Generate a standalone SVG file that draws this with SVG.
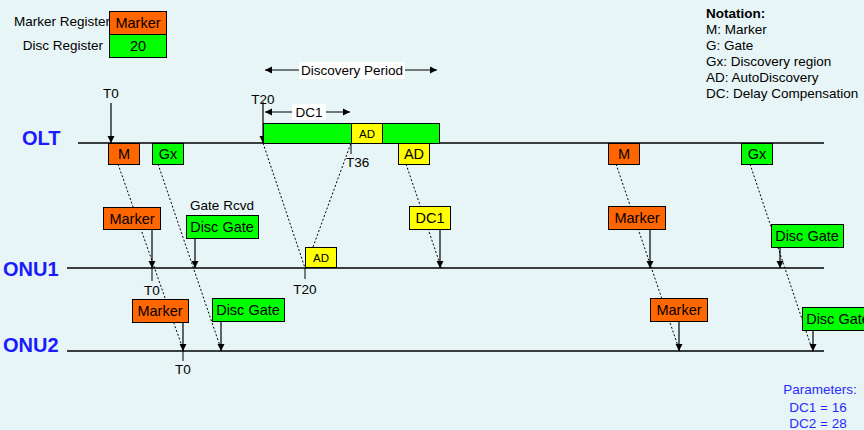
<svg xmlns="http://www.w3.org/2000/svg" width="864" height="430" viewBox="0 0 864 430">
  <defs>
    <marker id="ah" viewBox="0 0 10 10" refX="10" refY="5" markerWidth="7" markerHeight="10" markerUnits="userSpaceOnUse" orient="auto">
      <path d="M0,0 L10,5 L0,10 z" fill="#000"/>
    </marker>
    <style>
      text { font-family: "Liberation Sans", Arial, sans-serif; fill: #000; }
      .lbl { font-size: 13.5px; }
      .box { font-size: 14.5px; text-anchor: middle; }
      .small { font-size: 11.5px; text-anchor: middle; }
      .lane { font-size: 20px; font-weight: bold; fill: #1a1aff; }
      .blue { font-size: 13.5px; fill: #2a2aff; text-anchor: middle; }
      .orange { fill: #ff6600; stroke: #000; stroke-width: 1; }
      .green { fill: #00ff00; stroke: #000; stroke-width: 1; }
      .yellow { fill: #ffff00; stroke: #000; stroke-width: 1; }
      .axis { stroke: #000; stroke-width: 1.3; fill: none; }
      .msg { stroke: #000; stroke-width: 1; stroke-dasharray: 2 2; fill: none; }
      .arr { stroke: #000; stroke-width: 1.2; fill: none; marker-end: url(#ah); }
      .tick { stroke: #000; stroke-width: 1; fill: none; }
    </style>
  </defs>

  <rect x="0" y="0" width="864" height="430" fill="#e7f5f6"/>

  <!-- register legend -->
  <g id="registers">
    <text class="lbl" x="110" y="26" text-anchor="end">Marker Register</text>
    <rect class="orange" x="109.5" y="11.5" width="57" height="23"/>
    <text class="box" x="138" y="28">Marker</text>
    <text class="lbl" x="103" y="50" text-anchor="end">Disc Register</text>
    <rect class="green" x="109.5" y="34.5" width="57" height="23"/>
    <text class="box" x="138" y="51">20</text>
  </g>

  <!-- notation -->
  <g id="notation">
    <text class="lbl" x="706" y="18" font-weight="bold">Notation:</text>
    <text class="lbl" x="706" y="34">M: Marker</text>
    <text class="lbl" x="706" y="50">G: Gate</text>
    <text class="lbl" x="706" y="66">Gx: Discovery region</text>
    <text class="lbl" x="706" y="82">AD: AutoDiscovery</text>
    <text class="lbl" x="706" y="98">DC: Delay Compensation</text>
  </g>

  <!-- lanes -->
  <g id="lanes">
    <text class="lane" x="22" y="145">OLT</text>
    <line class="axis" x1="78" y1="143" x2="824" y2="143"/>
    <text class="lane" x="3" y="276">ONU1</text>
    <line class="axis" x1="67" y1="268" x2="824" y2="268"/>
    <text class="lane" x="3" y="352">ONU2</text>
    <line class="axis" x1="67" y1="351" x2="824" y2="351"/>
  </g>

  <!-- connectors -->
  <g id="connectors">
    <!-- propagation lines -->
    <line class="msg" x1="118" y1="164" x2="184" y2="352"/>
    <line class="msg" x1="158" y1="164" x2="222" y2="352"/>
    <line class="msg" x1="263" y1="143" x2="305" y2="268"/>
    <line class="msg" x1="313" y1="247" x2="351" y2="143"/>
    <line class="msg" x1="406" y1="164" x2="442" y2="270"/>
    <line class="msg" x1="616" y1="164" x2="680" y2="352"/>
    <line class="msg" x1="750" y1="164" x2="813" y2="352"/>

    <!-- time markers -->
    <line class="arr" x1="111" y1="103" x2="111" y2="143"/>
    <line class="arr" x1="263" y1="102" x2="263" y2="143"/>
    <line class="tick" x1="351" y1="143" x2="351" y2="154"/>
    <line class="tick" x1="152" y1="268" x2="152" y2="281"/>
    <line class="tick" x1="305" y1="268" x2="305" y2="279"/>
    <line class="tick" x1="183" y1="351" x2="183" y2="361"/>

    <!-- arrivals -->
    <line class="arr" x1="152" y1="230" x2="152" y2="268"/>
    <line class="arr" x1="195" y1="238" x2="195" y2="268"/>
    <line class="arr" x1="183" y1="322" x2="183" y2="351"/>
    <line class="arr" x1="221" y1="321" x2="221" y2="351"/>
    <line class="arr" x1="440" y1="229" x2="440" y2="268"/>
    <line class="arr" x1="650" y1="229" x2="650" y2="268"/>
    <line class="arr" x1="679" y1="321" x2="679" y2="351"/>
    <line class="arr" x1="780" y1="247" x2="780" y2="268"/>
    <line class="arr" x1="813" y1="330" x2="813" y2="351"/>

    <!-- spans -->
    <line class="arr" x1="351" y1="70" x2="265" y2="70"/>
    <line class="arr" x1="351" y1="70" x2="437" y2="70"/>
    <line class="arr" x1="306" y1="112" x2="265" y2="112"/>
    <line class="arr" x1="306" y1="112" x2="350" y2="112"/>
  </g>

  <!-- span labels -->
  <g id="discovery-period">
    <rect x="299" y="62" width="106" height="17" fill="#fff"/>
    <text class="lbl" x="352" y="75" text-anchor="middle">Discovery Period</text>
  </g>
  <g id="dc1-span">
    <rect x="292" y="104" width="34" height="16" fill="#fff"/>
    <text class="lbl" x="309" y="117" text-anchor="middle">DC1</text>
  </g>

  <!-- time labels -->
  <g id="time-labels">
    <text class="lbl" x="111" y="98" text-anchor="middle">T0</text>
    <text class="lbl" x="263" y="104" text-anchor="middle">T20</text>
    <text class="lbl" x="346" y="167">T36</text>
    <text class="lbl" x="152" y="295" text-anchor="middle">T0</text>
    <text class="lbl" x="305" y="294" text-anchor="middle">T20</text>
    <text class="lbl" x="183" y="374" text-anchor="middle">T0</text>
    <text class="lbl" x="222" y="210" text-anchor="middle">Gate Rcvd</text>
  </g>

  <!-- OLT events -->
  <g id="olt-m1">
    <rect class="orange" x="108.5" y="143.5" width="31" height="21"/>
    <text class="box" x="124" y="159">M</text>
  </g>
  <g id="olt-gx1">
    <rect class="green" x="152.5" y="143.5" width="31" height="21"/>
    <text class="box" x="168" y="159">Gx</text>
  </g>
  <g id="olt-discovery-window">
    <rect class="green" x="263.5" y="123.5" width="176" height="20"/>
    <rect class="yellow" x="351.5" y="123.5" width="31" height="20"/>
    <text class="small" x="367" y="138">AD</text>
  </g>
  <g id="olt-ad">
    <rect class="yellow" x="398.5" y="143.5" width="31" height="21"/>
    <text class="box" x="414" y="159">AD</text>
  </g>
  <g id="olt-m2">
    <rect class="orange" x="608.5" y="143.5" width="31" height="21"/>
    <text class="box" x="624" y="159">M</text>
  </g>
  <g id="olt-gx2">
    <rect class="green" x="741.5" y="143.5" width="31" height="21"/>
    <text class="box" x="757" y="159">Gx</text>
  </g>

  <!-- ONU1 events -->
  <g id="onu1-marker1">
    <rect class="orange" x="103.5" y="207.5" width="57" height="22"/>
    <text class="box" x="132" y="224">Marker</text>
  </g>
  <g id="onu1-discgate1">
    <rect class="green" x="186.5" y="215.5" width="72" height="23"/>
    <text class="box" x="222" y="232">Disc Gate</text>
  </g>
  <g id="onu1-ad">
    <rect class="yellow" x="305.5" y="247.5" width="31" height="20"/>
    <text class="small" x="321" y="262">AD</text>
  </g>
  <g id="onu1-dc1">
    <rect class="yellow" x="409.5" y="206.5" width="41" height="23"/>
    <text class="box" x="430" y="223">DC1</text>
  </g>
  <g id="onu1-marker2">
    <rect class="orange" x="608.5" y="206.5" width="57" height="23"/>
    <text class="box" x="637" y="223">Marker</text>
  </g>
  <g id="onu1-discgate2">
    <rect class="green" x="771.5" y="224.5" width="72" height="23"/>
    <text class="box" x="807" y="241">Disc Gate</text>
  </g>

  <!-- ONU2 events -->
  <g id="onu2-marker1">
    <rect class="orange" x="132.5" y="299.5" width="56" height="23"/>
    <text class="box" x="160" y="316">Marker</text>
  </g>
  <g id="onu2-discgate1">
    <rect class="green" x="212.5" y="298.5" width="72" height="23"/>
    <text class="box" x="248" y="315">Disc Gate</text>
  </g>
  <g id="onu2-marker2">
    <rect class="orange" x="650.5" y="298.5" width="57" height="23"/>
    <text class="box" x="679" y="315">Marker</text>
  </g>
  <g id="onu2-discgate2">
    <rect class="green" x="802.5" y="307.5" width="72" height="23"/>
    <text class="box" x="838" y="324">Disc Gate</text>
  </g>

  <!-- parameters -->
  <g id="parameters">
    <text class="blue" x="820" y="394">Parameters:</text>
    <text class="blue" x="818" y="412">DC1 = 16</text>
    <text class="blue" x="818" y="428">DC2 = 28</text>
  </g>
</svg>
